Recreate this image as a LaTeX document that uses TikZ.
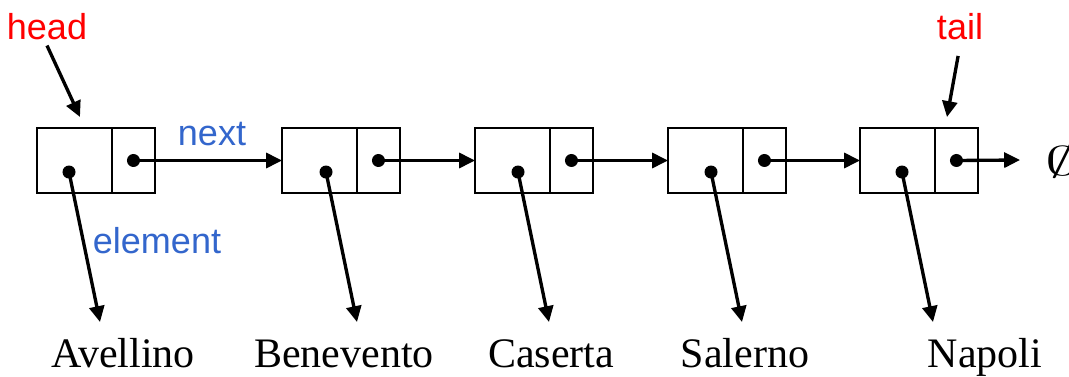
\documentclass[tikz,border=0pt]{standalone}
\usepackage{fontspec}
\setmainfont{Liberation Serif}
\newfontfamily\arialfont{Liberation Sans}
\usetikzlibrary{arrows.meta}
\definecolor{labelblue}{RGB}{51,102,204}

\begin{document}
\begin{tikzpicture}[x=0.02cm,y=-0.02cm,
  elem/.style={draw,line width=1.2pt,minimum width=1.5cm,minimum height=1.3cm,inner sep=0pt,outer sep=0pt,anchor=north west},
  nxt/.style={draw,line width=1.2pt,minimum width=0.86cm,minimum height=1.3cm,inner sep=0pt,outer sep=0pt,anchor=west},
  ptr/.style={line width=1.9pt,-{Triangle[length=9pt,width=8.5pt]}},
  city/.style={font=\fontsize{23.9}{28}\selectfont,anchor=base,inner sep=0pt},
  tag/.style={font=\fontsize{20.5}{24}\arialfont,anchor=base}]
\useasboundingbox (0,0) rectangle (1069,376);
\def\r{3.7pt}; % radius of the pointer dots
% one cell per city: left edge, dot offset, label centre
\foreach \i/\x/\ex/\word/\lx in {1/37/32/Avellino/123, 2/282/44/Benevento/344, 3/475/43/Caserta/551, 4/668/43/Salerno/745, 5/860/42/Napoli/985} {
  \node[elem] (e\i) at (\x,128) {};
  \node[nxt] (n\i) at (e\i.east) {};
  \coordinate (d\i) at (\x+\ex,172);
  \coordinate (t\i) at (\x+\ex+31,322);
  \node[city] (c\i) at (\lx,367) {\word};
  \fill (d\i) circle (\r);
  \fill (n\i.center) circle (\r);
  \draw[ptr] (d\i) -- (t\i);
}
\foreach \i/\j in {1/2,2/3,3/4,4/5} {
  \draw[ptr] (n\i.center) -- (e\j.west);
}
% end of the list
\node[font=\fontsize{23.9}{28}\selectfont,anchor=base west,inner sep=0pt] (nil) at (1045,175) {\scalebox{1.6}[0.95]{$\emptyset$}};
\coordinate (nilend) at (1020,160);
\draw[ptr] (n5.center) -- (nilend);
% head and tail
\node[tag,red] (head) at (47,39) {head};
\coordinate (headtip) at (80,117);
\draw[ptr] (head.south) -- (headtip);
\node[tag,red] (tail) at (960,39) {tail};
\coordinate (tailtip) at (947,117);
\draw[ptr,shorten <=6pt] (tail.south) -- (tailtip);
% field names
\node[tag,labelblue,inner sep=0pt] (next) at (212,145) {next};
\node[tag,labelblue,inner sep=0pt] (element) at (157,253) {element};
\end{tikzpicture}
\end{document}
